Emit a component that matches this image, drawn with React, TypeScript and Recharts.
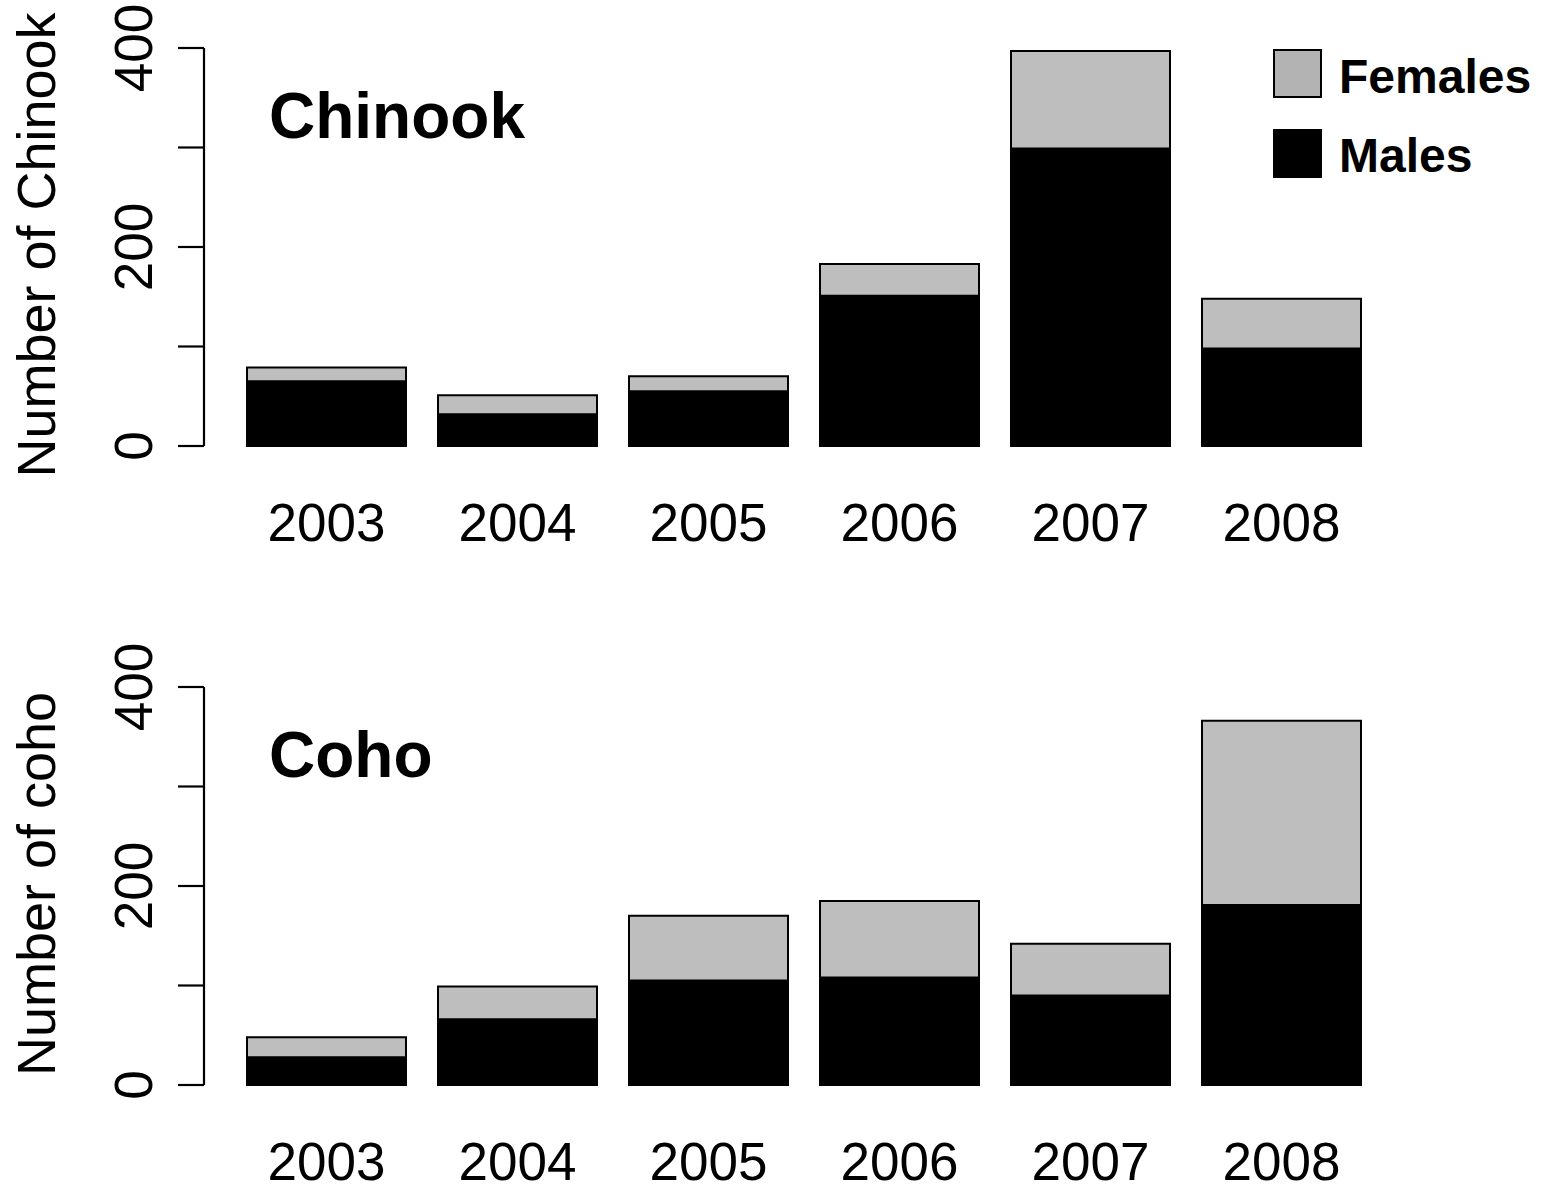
import React from 'react';
import { BarChart, Bar, XAxis, YAxis, Legend, Customized } from 'recharts';

// Spawner counts by return year
const years = ['2003', '2004', '2005', '2006', '2007', '2008'];
const chinookMales = [65, 32, 55, 151, 299, 98];
const chinookFemales = [14, 19, 15, 32, 98, 50];
const cohoMales = [28, 66, 105, 108, 90, 181];
const cohoFemales = [20, 33, 65, 77, 52, 185];

const countTicks = [0, 100, 200, 300, 400];
const labelledTicks = [0, 200, 400];
const legendOrder = ['Females', 'Males'];

const FONT = '"Liberation Sans", Arial, Helvetica, sans-serif';
const FEMALE_FILL = '#BEBEBE';
const MALE_FILL = '#000000';
const LEGEND_SWATCH: Record<string, string> = { Females: '#B3B3B3', Males: '#000000' };

const buildRows = (males: number[], females: number[]) =>
  years.map((year, i) => ({ year, males: males[i], females: females[i] }));

const chinookRows = buildRows(chinookMales, chinookFemales);
const cohoRows = buildRows(cohoMales, cohoFemales);

function YTick(props: any) {
  const { x, y, payload } = props;
  if (!labelledTicks.includes(payload.value)) return null;
  const bx = x - 26;
  return (
    <text
      x={bx}
      y={y}
      transform={`rotate(-90, ${bx}, ${y})`}
      textAnchor="middle"
      fontSize={53}
      fontFamily={FONT}
      fill="#000"
    >
      {payload.value}
    </text>
  );
}

function XTick(props: any) {
  const { x, y, payload } = props;
  return (
    <text x={x} y={y + 95} textAnchor="middle" fontSize={53} fontFamily={FONT} fill="#000">
      {payload.value}
    </text>
  );
}

function AxisTitle({ viewBox, text }: { viewBox: any; text: string }) {
  const cx = viewBox.x - 29;
  const cy = viewBox.y + viewBox.height / 2 - 2;
  return (
    <text
      x={cx}
      y={cy}
      transform={`rotate(-90, ${cx}, ${cy})`}
      textAnchor="middle"
      fontSize={54}
      fontFamily={FONT}
      fill="#000"
    >
      {text}
    </text>
  );
}

function LegendContent(props: any) {
  const items = [...(props.payload ?? [])].sort(
    (a: any, b: any) => legendOrder.indexOf(a.value) - legendOrder.indexOf(b.value)
  );
  return (
    <svg width={290} height={150} style={{ display: 'block' }}>
      {items.map((entry: any, i: number) => (
        <g key={entry.value}>
          <rect
            x={14}
            y={10 + i * 80}
            width={47}
            height={47}
            fill={LEGEND_SWATCH[entry.value] ?? entry.color}
            stroke="#000"
            strokeWidth={2}
          />
          <text
            x={79}
            y={53 + i * 79}
            fontSize={48}
            fontWeight="bold"
            fontFamily={FONT}
            fill="#000"
          >
            {entry.value}
          </text>
        </g>
      ))}
    </svg>
  );
}

type PanelProps = {
  rows: { year: string; males: number; females: number }[];
  title: string;
  yTitle: string;
  withLegend: boolean;
};

function Panel({ rows, title, yTitle, withLegend }: PanelProps) {
  return (
    <BarChart
      width={1550}
      height={560}
      data={rows}
      margin={{ top: 48, right: 173, bottom: 0, left: 84 }}
      barSize={159}
    >
      <XAxis
        dataKey="year"
        axisLine={false}
        tickLine={false}
        tickSize={0}
        tickMargin={0}
        height={114}
        padding={{ left: 27, right: 0 }}
        tick={<XTick />}
        interval={0}
      />
      <YAxis
        type="number"
        domain={[0, 400]}
        ticks={countTicks}
        width={120}
        tickSize={26}
        tickMargin={0}
        axisLine={{ stroke: '#000', strokeWidth: 2.2 }}
        tickLine={{ stroke: '#000', strokeWidth: 2.2 }}
        tick={<YTick />}
        interval={0}
        label={{ content: (p: any) => <AxisTitle viewBox={p.viewBox} text={yTitle} /> }}
      />
      <Bar
        dataKey="males"
        name="Males"
        stackId="sex"
        fill={MALE_FILL}
        stroke="#000"
        strokeWidth={2}
        isAnimationActive={false}
      />
      <Bar
        dataKey="females"
        name="Females"
        stackId="sex"
        fill={FEMALE_FILL}
        stroke="#000"
        strokeWidth={2}
        isAnimationActive={false}
      />
      <Customized
        component={() => (
          <text x={269} y={138} fontSize={64} fontWeight="bold" fontFamily={FONT} fill="#000">
            {title}
          </text>
        )}
      />
      {withLegend && (
        <Legend
          layout="horizontal"
          verticalAlign="middle"
          align="center"
          content={<LegendContent />}
          wrapperStyle={{ position: 'absolute', left: 1260, top: 40, width: 290, height: 150 }}
        />
      )}
    </BarChart>
  );
}

export default function App() {
  return (
    <div
      style={{
        position: 'absolute',
        left: 0,
        top: 0,
        width: 1550,
        height: 1185,
        overflow: 'hidden',
        background: '#fff',
        fontFamily: FONT,
      }}
    >
      <div style={{ position: 'absolute', left: 0, top: 0 }}>
        <Panel rows={chinookRows} title="Chinook" yTitle="Number of Chinook" withLegend />
      </div>
      <div style={{ position: 'absolute', left: 0, top: 639 }}>
        <Panel rows={cohoRows} title="Coho" yTitle="Number of coho" withLegend={false} />
      </div>
    </div>
  );
}
